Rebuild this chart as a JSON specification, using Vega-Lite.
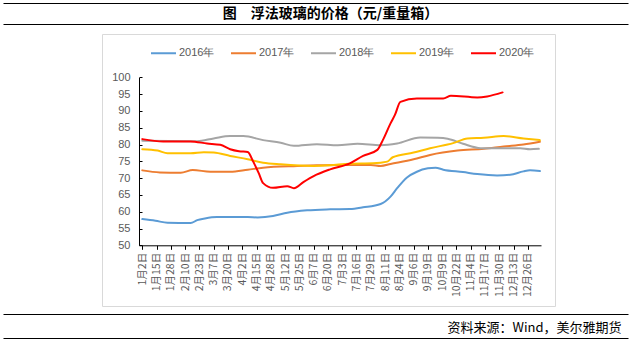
{
  "$schema": "https://vega.github.io/schema/vega-lite/v6.json",
  "width": 625,
  "height": 335,
  "autosize": {"type": "none"},
  "padding": {"left": 3, "top": 3, "right": 3, "bottom": 6},
  "background": "white",
  "view": {"stroke": "black", "strokeWidth": 1, "strokeDash": [625, 335], "fill": null},
  "title": {"text": "图　浮法玻璃的价格（元/重量箱）", "anchor": "middle", "frame": "group", "orient": "top", "offset": 0, "dy": 24.5, "dx": 15, "baseline": "middle", "font": "Noto Sans CJK SC", "fontSize": 14, "fontWeight": "bold", "color": "#000000"},
  "data": {"values": [
    {"year": "2016年", "t": 0, "v": 57.8}, {"year": "2016年", "t": 12, "v": 57.3}, {"year": "2016年", "t": 23, "v": 56.7}, {"year": "2016年", "t": 44, "v": 56.6}, {"year": "2016年", "t": 50, "v": 57.5}, {"year": "2016年", "t": 57, "v": 58.0}, {"year": "2016年", "t": 68, "v": 58.4}, {"year": "2016年", "t": 96, "v": 58.4}, {"year": "2016年", "t": 105, "v": 58.3}, {"year": "2016年", "t": 119, "v": 58.7}, {"year": "2016年", "t": 132, "v": 59.7}, {"year": "2016年", "t": 150, "v": 60.4}, {"year": "2016年", "t": 171, "v": 60.7}, {"year": "2016年", "t": 189, "v": 60.8}, {"year": "2016年", "t": 201, "v": 61.3}, {"year": "2016年", "t": 217, "v": 62.3}, {"year": "2016年", "t": 226, "v": 64.5}, {"year": "2016年", "t": 232, "v": 67.0}, {"year": "2016年", "t": 241, "v": 70.2}, {"year": "2016年", "t": 250, "v": 71.9}, {"year": "2016年", "t": 260, "v": 72.9}, {"year": "2016年", "t": 267, "v": 73.1}, {"year": "2016年", "t": 274, "v": 72.5}, {"year": "2016年", "t": 292, "v": 71.8}, {"year": "2016年", "t": 305, "v": 71.2}, {"year": "2016年", "t": 323, "v": 70.8}, {"year": "2016年", "t": 335, "v": 71.0}, {"year": "2016年", "t": 347, "v": 72.0}, {"year": "2016年", "t": 353, "v": 72.3}, {"year": "2016年", "t": 362, "v": 72.1},
    {"year": "2017年", "t": 0, "v": 72.3}, {"year": "2017年", "t": 16, "v": 71.7}, {"year": "2017年", "t": 35, "v": 71.6}, {"year": "2017年", "t": 46, "v": 72.4}, {"year": "2017年", "t": 62, "v": 71.9}, {"year": "2017年", "t": 80, "v": 71.9}, {"year": "2017年", "t": 96, "v": 72.5}, {"year": "2017年", "t": 110, "v": 73.1}, {"year": "2017年", "t": 141, "v": 73.6}, {"year": "2017年", "t": 159, "v": 73.8}, {"year": "2017年", "t": 180, "v": 73.9}, {"year": "2017年", "t": 208, "v": 73.9}, {"year": "2017年", "t": 217, "v": 73.6}, {"year": "2017年", "t": 226, "v": 74.2}, {"year": "2017年", "t": 247, "v": 75.6}, {"year": "2017年", "t": 262, "v": 76.9}, {"year": "2017年", "t": 287, "v": 78.2}, {"year": "2017年", "t": 311, "v": 78.7}, {"year": "2017年", "t": 329, "v": 79.4}, {"year": "2017年", "t": 347, "v": 80.0}, {"year": "2017年", "t": 362, "v": 80.8},
    {"year": "2018年", "t": 0, "v": 81.1}, {"year": "2018年", "t": 50, "v": 81.0}, {"year": "2018年", "t": 65, "v": 81.8}, {"year": "2018年", "t": 80, "v": 82.5}, {"year": "2018年", "t": 92, "v": 82.5}, {"year": "2018年", "t": 110, "v": 81.3}, {"year": "2018年", "t": 126, "v": 80.5}, {"year": "2018年", "t": 138, "v": 79.6}, {"year": "2018年", "t": 159, "v": 80.1}, {"year": "2018年", "t": 178, "v": 79.8}, {"year": "2018年", "t": 196, "v": 80.2}, {"year": "2018年", "t": 217, "v": 79.8}, {"year": "2018年", "t": 232, "v": 80.3}, {"year": "2018年", "t": 253, "v": 82.1}, {"year": "2018年", "t": 269, "v": 82.0}, {"year": "2018年", "t": 278, "v": 81.7}, {"year": "2018年", "t": 292, "v": 80.2}, {"year": "2018年", "t": 308, "v": 78.9}, {"year": "2018年", "t": 329, "v": 78.9}, {"year": "2018年", "t": 344, "v": 78.9}, {"year": "2018年", "t": 353, "v": 78.6}, {"year": "2018年", "t": 361, "v": 78.7},
    {"year": "2019年", "t": 0, "v": 78.6}, {"year": "2019年", "t": 14, "v": 78.2}, {"year": "2019年", "t": 23, "v": 77.4}, {"year": "2019年", "t": 44, "v": 77.4}, {"year": "2019年", "t": 56, "v": 77.7}, {"year": "2019年", "t": 65, "v": 77.6}, {"year": "2019年", "t": 80, "v": 76.6}, {"year": "2019年", "t": 96, "v": 75.6}, {"year": "2019年", "t": 110, "v": 74.6}, {"year": "2019年", "t": 126, "v": 74.1}, {"year": "2019年", "t": 156, "v": 73.6}, {"year": "2019年", "t": 171, "v": 73.8}, {"year": "2019年", "t": 189, "v": 74.3}, {"year": "2019年", "t": 210, "v": 74.4}, {"year": "2019年", "t": 223, "v": 74.9}, {"year": "2019年", "t": 228, "v": 76.2}, {"year": "2019年", "t": 247, "v": 77.6}, {"year": "2019年", "t": 262, "v": 78.9}, {"year": "2019年", "t": 283, "v": 80.4}, {"year": "2019年", "t": 296, "v": 81.8}, {"year": "2019年", "t": 311, "v": 82.0}, {"year": "2019年", "t": 329, "v": 82.5}, {"year": "2019年", "t": 347, "v": 81.8}, {"year": "2019年", "t": 362, "v": 81.3},
    {"year": "2020年", "t": 0, "v": 81.6}, {"year": "2020年", "t": 19, "v": 80.9}, {"year": "2020年", "t": 44, "v": 80.9}, {"year": "2020年", "t": 59, "v": 80.3}, {"year": "2020年", "t": 71, "v": 79.9}, {"year": "2020年", "t": 80, "v": 78.6}, {"year": "2020年", "t": 88, "v": 78.0}, {"year": "2020年", "t": 96, "v": 77.8}, {"year": "2020年", "t": 101, "v": 74.9}, {"year": "2020年", "t": 106, "v": 71.5}, {"year": "2020年", "t": 110, "v": 68.5}, {"year": "2020年", "t": 119, "v": 67.1}, {"year": "2020年", "t": 132, "v": 67.6}, {"year": "2020年", "t": 138, "v": 67.0}, {"year": "2020年", "t": 147, "v": 68.9}, {"year": "2020年", "t": 156, "v": 70.6}, {"year": "2020年", "t": 171, "v": 72.6}, {"year": "2020年", "t": 189, "v": 74.4}, {"year": "2020年", "t": 201, "v": 76.6}, {"year": "2020年", "t": 214, "v": 78.4}, {"year": "2020年", "t": 219, "v": 81.3}, {"year": "2020年", "t": 226, "v": 86.3}, {"year": "2020年", "t": 230, "v": 88.8}, {"year": "2020年", "t": 235, "v": 92.7}, {"year": "2020年", "t": 250, "v": 93.7}, {"year": "2020年", "t": 274, "v": 93.7}, {"year": "2020年", "t": 281, "v": 94.5}, {"year": "2020年", "t": 305, "v": 94.0}, {"year": "2020年", "t": 314, "v": 94.3}, {"year": "2020年", "t": 328, "v": 95.5}
  ]},
  "layer": [
    {
      "mark": {"type": "line", "interpolate": "monotone", "strokeCap": "round", "strokeJoin": "round"},
      "encoding": {
        "x": {"field": "t", "type": "quantitative",
          "scale": {"domain": [-3, 363], "range": [136, 538], "nice": false, "zero": false},
          "axis": {"orient": "bottom", "offset": -92.7,
            "values": [0, 13, 26, 39, 52, 65, 78, 91, 104, 117, 130, 143, 156, 169, 182, 195, 208, 221, 234, 247, 260, 273, 286, 299, 312, 325, 338, 351],
            "labelExpr": "['1月2日','1月15日','1月28日','2月10日','2月23日','3月7日','3月20日','4月2日','4月15日','4月28日','5月12日','5月25日','6月7日','6月20日','7月3日','7月16日','7月29日','8月11日','8月24日','9月6日','9月19日','10月9日','10月22日','11月4日','11月17日','11月30日','12月13日','12月26日'][round(datum.value/13)]",
            "labelAngle": 270, "labelFont": "Noto Sans CJK SC", "labelFontSize": 10.5, "labelColor": "#595959", "labelPadding": 3, "labelOverlap": false, "labelFlush": false,
            "tickSize": 4, "tickColor": "#000000", "domainColor": "#000000", "grid": false,
            "title": "资料来源：Wind，美尔雅期货", "titleX": 618, "titleY": 85.7, "titleAlign": "right", "titleAnchor": "end", "titleBaseline": "alphabetic",
            "titleFont": "Noto Sans CJK SC", "titleFontSize": 13, "titleFontWeight": "normal", "titleColor": "#000000"}},
        "y": {"field": "v", "type": "quantitative",
          "scale": {"domain": [50, 100], "range": [242.3, 74.3], "nice": false, "zero": false},
          "axis": {"orient": "left", "offset": -136, "values": [50, 55, 60, 65, 70, 75, 80, 85, 90, 95, 100],
            "labelFont": "Liberation Sans", "labelFontSize": 11, "labelColor": "#595959", "labelPadding": 12,
            "tickSize": -3, "tickColor": "#000000", "domainColor": "#000000", "grid": false, "title": null}},
        "color": {"field": "year", "type": "nominal",
          "scale": {"domain": ["2016年", "2017年", "2018年", "2019年", "2020年"], "range": ["#5B9BD5", "#ED7D31", "#A5A5A5", "#FFC000", "#FF0000"]},
          "legend": {"orient": "none", "legendX": 147, "legendY": 36.5, "direction": "horizontal", "title": null,
            "symbolType": "stroke", "symbolSize": 625, "labelFont": "Liberation Sans", "labelFontSize": 11, "labelColor": "#595959",
            "columnPadding": 12, "labelOffset": 2, "padding": 0}},
        "strokeWidth": {"field": "year", "type": "nominal",
          "scale": {"domain": ["2016年", "2017年", "2018年", "2019年", "2020年"], "range": [2, 2, 2, 2, 3.8]}}
      }
    },
    {
      "mark": {"type": "point", "opacity": 0},
      "encoding": {
        "x": {"field": "t", "type": "quantitative", "scale": {"range": [0, 625]},
          "axis": {"orient": "top", "offset": -21, "labels": false, "ticks": false, "grid": false, "title": null, "domainColor": "#000000", "domainWidth": 1}}
      }
    },
    {
      "mark": {"type": "point", "opacity": 0},
      "encoding": {
        "x": {"field": "t", "type": "quantitative", "scale": {"range": [0, 625]},
          "axis": {"orient": "bottom", "offset": -24, "labels": false, "ticks": false, "grid": false, "title": null, "domainColor": "#000000", "domainWidth": 1}}
      }
    },
    {
      "mark": {"type": "point", "opacity": 0},
      "encoding": {
        "x": {"field": "t", "type": "quantitative", "scale": {"range": [99, 552]},
          "axis": {"orient": "top", "offset": -31, "labels": false, "ticks": false, "grid": false, "title": null, "domainColor": "#D9D9D9", "domainWidth": 1}},
        "y": {"field": "v", "type": "quantitative", "scale": {"range": [303, 31]},
          "axis": {"orient": "left", "offset": -99, "labels": false, "ticks": false, "grid": false, "title": null, "domainColor": "#D9D9D9", "domainWidth": 1}}
      }
    },
    {
      "mark": {"type": "point", "opacity": 0},
      "encoding": {
        "x": {"field": "t", "type": "quantitative", "scale": {"range": [99, 552]},
          "axis": {"orient": "bottom", "offset": -32, "labels": false, "ticks": false, "grid": false, "title": null, "domainColor": "#D9D9D9", "domainWidth": 1}},
        "y": {"field": "v", "type": "quantitative", "scale": {"range": [303, 31]},
          "axis": {"orient": "right", "offset": -73, "labels": false, "ticks": false, "grid": false, "title": null, "domainColor": "#D9D9D9", "domainWidth": 1}}
      }
    }
  ],
  "resolve": {"scale": {"x": "independent", "y": "independent"}}
}
